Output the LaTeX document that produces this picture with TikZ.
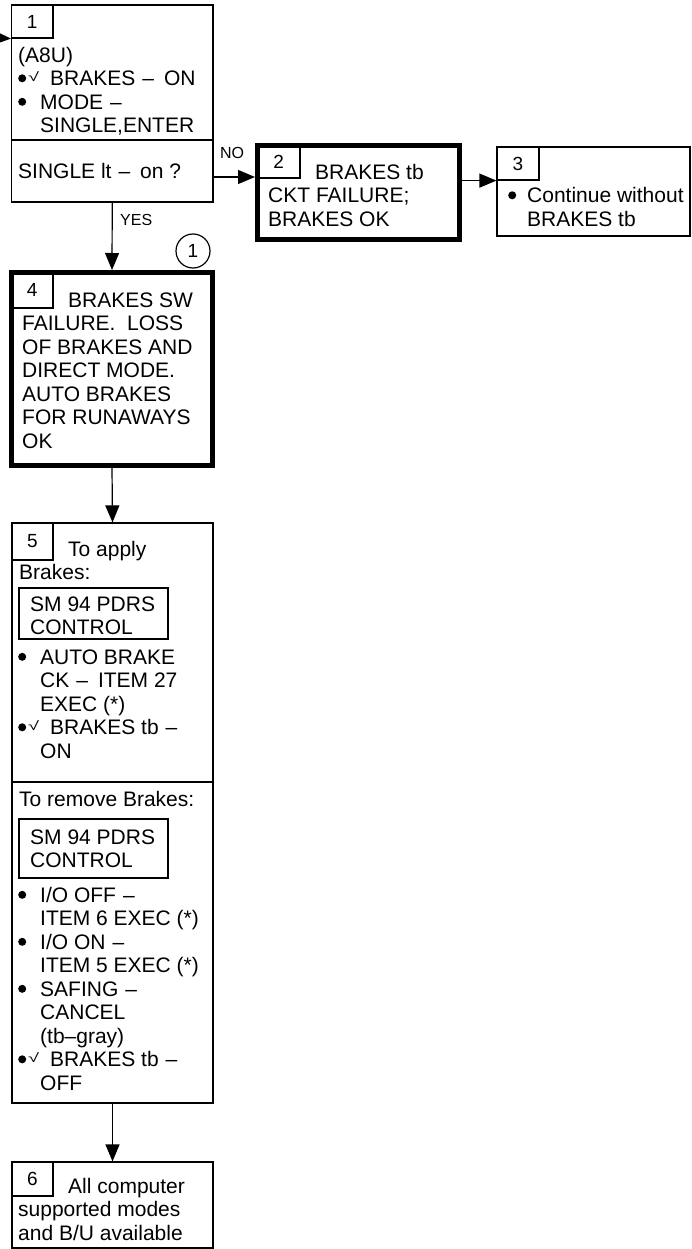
\documentclass[tikz,border=0pt]{standalone}
\usepackage{fontspec}
\setmainfont{Liberation Sans}
\usetikzlibrary{arrows.meta}
\newcommand{\mydot}{\tikz[baseline=0pt]\fill (4pt,7.4pt) circle (4pt);}
\newcommand{\mychk}{\raisebox{4.5pt}{\scalebox{1.6}[1]{\fontsize{12.5}{12.5}\selectfont √}}}
\newcommand{\mybu}[1][22pt]{\makebox[#1][l]{\mydot}}
\newcommand{\mybc}{\makebox[10pt][l]{\mydot}\makebox[22pt][l]{\mychk}}
\newcommand{\myind}{\hspace*{22pt}}
\newcommand{\mydsh}{\hspace{7pt}–\hspace{10pt}}
\tikzset{
  box/.style={draw, line width=1.2pt, inner sep=0, anchor=center},
  thickbox/.style={draw, line width=5pt, inner sep=0, anchor=center},
  num/.style={draw, line width=1.2pt, inner sep=0, anchor=center, font=\fontsize{19}{19}\selectfont},
  txt/.style={anchor=north west, align=left, inner sep=0, font=\fontsize{21}{23.5}\selectfont},
  lab/.style={inner sep=0, font=\fontsize{16}{16}\selectfont},
  arr/.style={line width=1.2pt, -{Triangle[length=17pt,width=14pt]}},
  rule/.style={line width=1.2pt}
}
\begin{document}
\begin{tikzpicture}[x=1pt,y=-1pt]
\fill[white] (0,0) rectangle (691,1249);
\useasboundingbox (0,0) rectangle (691,1249);

% Box 1
\node[box, minimum width=201.5pt, minimum height=197pt] (b1) at (112.25,103.5) {};
\node[num, minimum width=41.5pt, minimum height=33pt] (n1) at (32.25,21.5) {1};
\draw[rule] (b1.west |- 0,140) coordinate (d1l) -- (b1.east |- 0,140) coordinate (d1r);
\node[txt] (t1a) at (18,45.55) {\strut(A8U)\\\mybc BRAKES\mydsh ON\\\mybu MODE\mydsh\\\myind SINGLE,ENTER};
\node[txt] (t1b) at (18,161.55) {\strut SINGLE lt\mydsh on ?};

% Box 2
\node[thickbox, minimum width=202pt, minimum height=94pt] (b2) at (358.5,192.5) {};
\node[num, minimum width=42.5pt, minimum height=32.5pt] (n2) at (278.75,161.75) {2};
\node[txt] (t2) at (268,162.55) {\strut\hspace*{47pt}BRAKES tb\\CKT FAILURE;\\BRAKES OK};

% Box 3
\node[box, minimum width=193pt, minimum height=89pt] (b3) at (593.5,191.5) {};
\node[num, minimum width=42pt, minimum height=33pt] (n3) at (518,163.5) {3};
\node[txt] (t3) at (508,186.05) {\strut\mybu[19pt]Continue without\\\hspace*{19pt}BRAKES tb};

% Box 4
\node[thickbox, minimum width=201pt, minimum height=192.5pt] (b4) at (112,368.75) {};
\node[num, minimum width=41.5pt, minimum height=35.5pt] (n4) at (32.25,290.25) {4};
\node[txt] (t4) at (22,290.55) {\strut\hspace*{46pt}BRAKES SW\\FAILURE.\ \ LOSS\\OF BRAKES AND\\DIRECT MODE.\\AUTO BRAKES\\FOR RUNAWAYS\\OK};
\node[circle, draw, line width=1.2pt, minimum size=34pt, inner sep=0, font=\fontsize{19}{19}\selectfont] (c1) at (193,251) {1};

% Box 5
\node[box, minimum width=201pt, minimum height=580pt] (b5) at (112.5,813) {};
\node[num, minimum width=41pt, minimum height=37pt] (n5) at (32.5,541.5) {5};
\node[txt] (t5a) at (19,539.55) {\strut\hspace*{49pt}To apply\\Brakes:};
\node[box, minimum width=149pt, minimum height=51pt] (sm1) at (93.5,613.5) {};
\node[txt] (t5b) at (30,594.55) {\strut SM 94 PDRS\\CONTROL};
\node[txt] (t5c) at (18,647.55) {\strut\mybu AUTO BRAKE\\\myind CK\mydsh ITEM 27\\\myind EXEC (*)\\\mybc BRAKES tb\mydsh\\\myind ON};
\draw[rule] (b5.west |- 0,782) coordinate (d5l) -- (b5.east |- 0,782) coordinate (d5r);
\node[txt] (t5d) at (19,789.55) {\strut To remove Brakes:};
\node[box, minimum width=149pt, minimum height=59pt] (sm2) at (93.5,848.5) {};
\node[txt] (t5e) at (30,827.55) {\strut SM 94 PDRS\\CONTROL};
\node[txt] (t5f) at (18,885.55) {\strut\mybu I/O OFF\mydsh\\\myind ITEM 6 EXEC (*)\\\mybu I/O ON\mydsh\\\myind ITEM 5 EXEC (*)\\\mybu SAFING\mydsh\\\myind CANCEL\\\myind (tb–gray)\\\mybc BRAKES tb\mydsh\\\myind OFF};

% Box 6
\node[box, minimum width=201pt, minimum height=86pt] (b6) at (112.5,1205) {};
\node[num, minimum width=41pt, minimum height=34pt] (n6) at (32.5,1179) {6};
\node[txt] (t6) at (18,1176.55) {\strut\hspace*{50pt}All computer\\supported modes\\and B/U available};

% Connectors
\coordinate (in) at (0,38);
\draw[arr] (in) -- (n1.south west);
\coordinate (noy) at (0,177);
\draw[arr] (b1.east |- noy) -- (b2.west |- noy);
\node[lab] (lno) at (232,153) {NO};
\draw[arr] (b2.east |- n3.south) -- (n3.south west);
\draw[arr] (b1.south) -- (b4.north);
\node[lab, anchor=west] (lyes) at (120,220) {YES};
\draw[arr] (b4.south) -- (b5.north);
\draw[arr] (b5.south) -- (b6.north);
\end{tikzpicture}
\end{document}
